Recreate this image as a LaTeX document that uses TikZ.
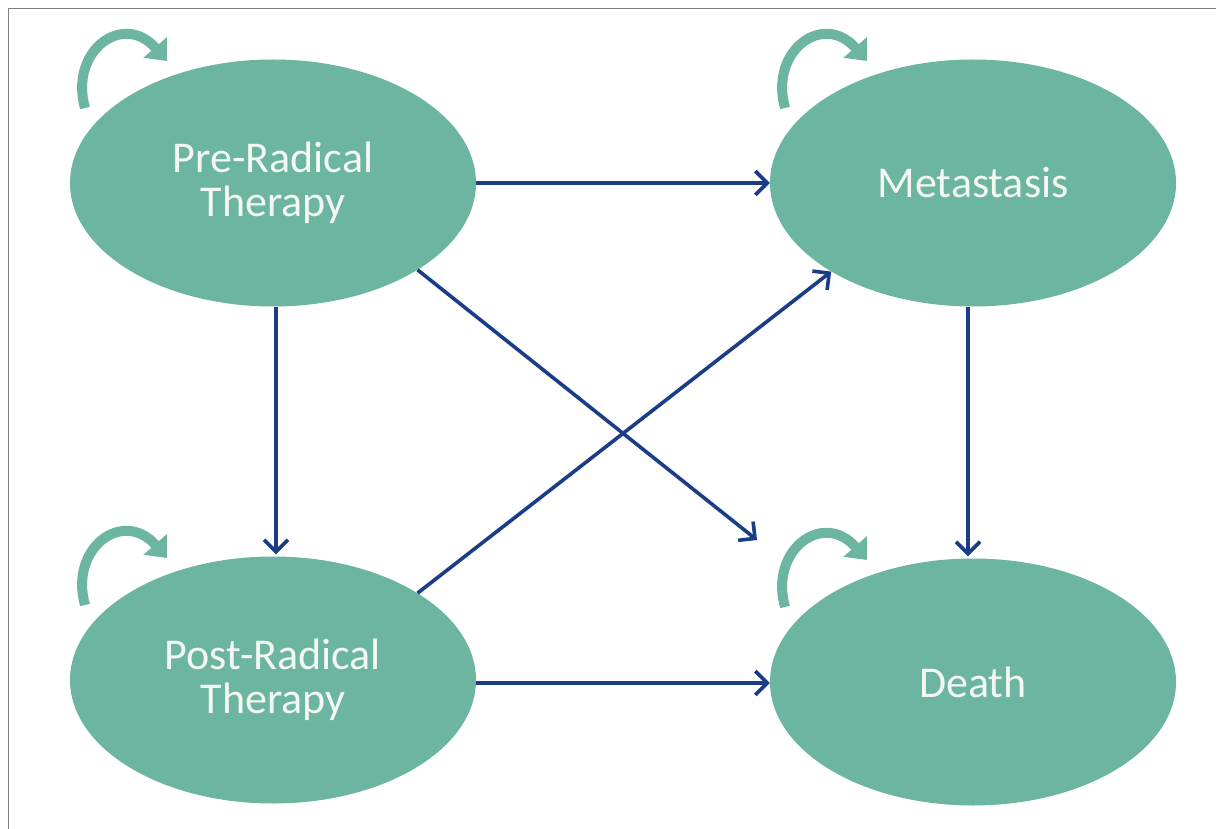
\documentclass[tikz,border=0pt]{standalone}
\usepackage{fontspec}
\setmainfont{Carlito}
\usetikzlibrary{arrows.meta,shapes.geometric}
\definecolor{teal1}{HTML}{6BB5A1}
\definecolor{navy1}{HTML}{1B3C87}
\definecolor{txt1}{HTML}{F4F8F2}
\tikzset{
  state/.style={ellipse, fill=teal1, draw=none, minimum width=406pt, minimum height=247pt, inner sep=0pt,
    text=txt1, font=\fontsize{44}{44}\selectfont, align=center},
  flow/.style={draw=navy1, line width=3.6pt, -{Straight Barb[length=12pt,width=24pt,line width=3.6pt]}},
  loopy/.style={draw=teal1, line width=10pt, -{Triangle[length=18pt,width=30pt]}}
}
\newcommand\selfloop[1]{%
  \draw[loopy] ([shift={(-188,-75)}]#1.center) .. controls ([shift={(-204,-132)}]#1.center) and ([shift={(-150,-172)}]#1.center) .. ([shift={(-106,-122)}]#1.center);}
\begin{document}
\begin{tikzpicture}[x=1pt,y=-1pt]
\useasboundingbox (0,0) rectangle (1216,829);
\fill[white] (0,0) rectangle (1216,829);
\coordinate (tl) at (8,9);
\coordinate (tr) at (1216,9);
\coordinate (bl) at (8,829);
\draw[gray, line width=1pt] (tr) -- (tl) -- (bl);

\node[state] (pre) at (273,183) {Pre-Radical\\Therapy};
\node[state] (meta) at (973,183) {Metastasis};
\node[state] (post) at (273,680) {Post-Radical\\Therapy};
\node[state] (death) at (973,682) {Death};

\selfloop{pre}
\selfloop{meta}
\selfloop{post}
\selfloop{death}

\coordinate (d1) at (757,540);
\draw[flow] (pre.east) -- (meta.west);
\draw[flow] (post.east |- 0,683) -- (death.west |- 0,683);
\draw[flow] ([xshift=3pt]pre.south) -- ([xshift=3pt,yshift=2pt]post.north);
\draw[flow] ([xshift=-5pt]meta.south) -- ([xshift=-5pt,yshift=2pt]death.north);
\draw[flow] (pre.-31.7) -- (d1);
\draw[flow] (post.31) -- (meta.212.5);
\end{tikzpicture}
\end{document}
